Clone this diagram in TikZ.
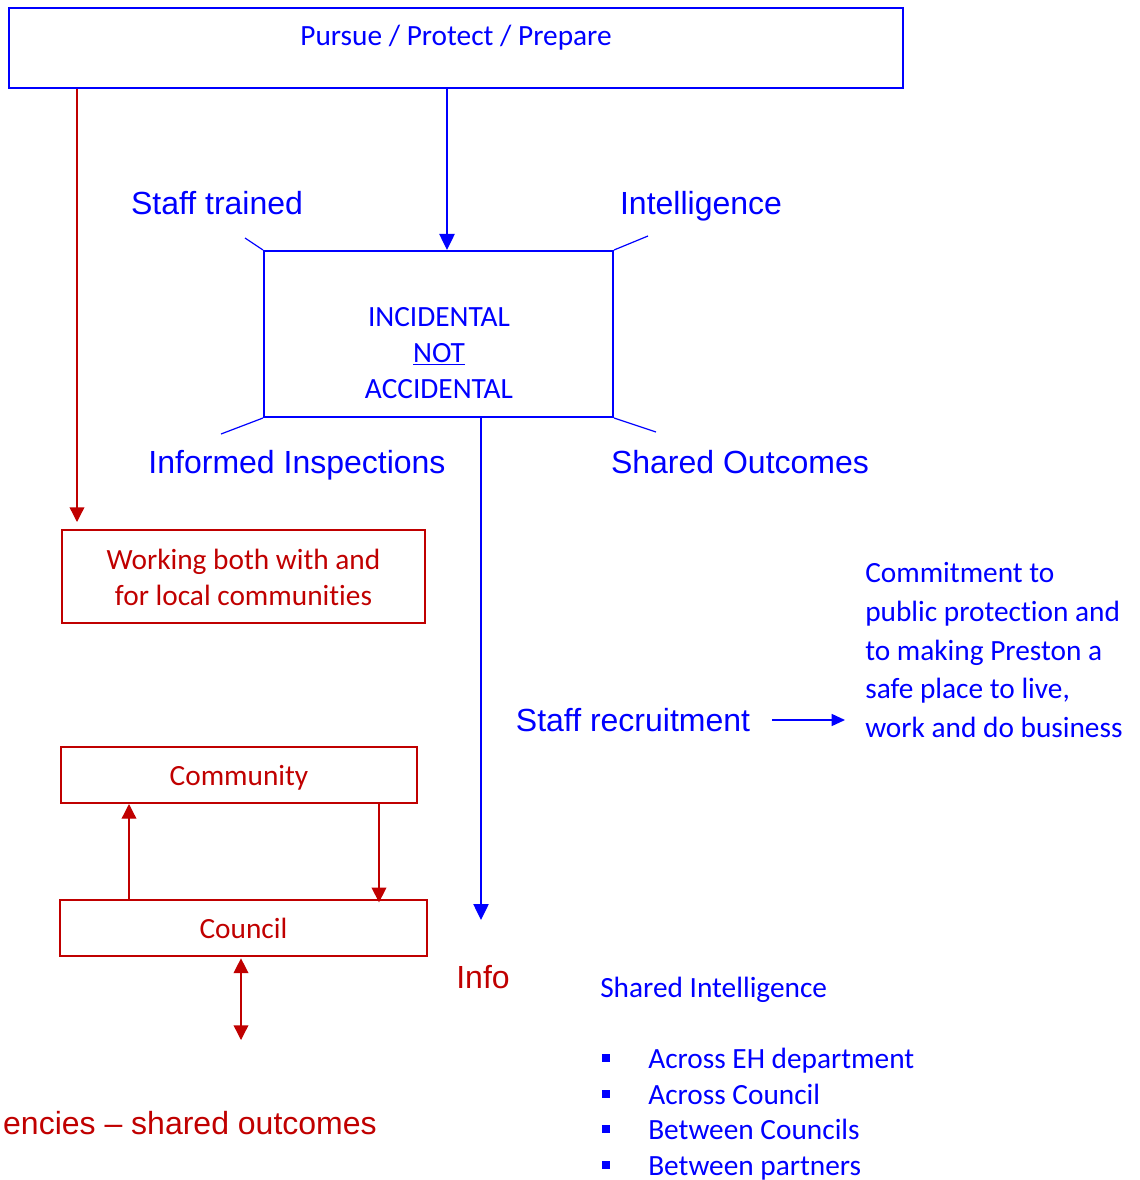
\documentclass[tikz,border=0pt]{standalone}
\usepackage{fontspec}
\setmainfont{Carlito}[Ligatures={NoCommon}]
\newfontfamily\arialf[Ligatures=TeX]{Liberation Sans}
\usetikzlibrary{arrows.meta}
\definecolor{dblue}{RGB}{0,0,255}
\definecolor{dred}{RGB}{192,0,0}
\begin{document}
\begin{tikzpicture}[x=0.75pt,y=-0.75pt,
  bbox/.style={draw=dblue,line width=1.5pt,inner sep=0pt},
  rbox/.style={draw=dred,line width=1.5pt,inner sep=0pt},
  ctext/.style={font=\fontsize{22}{27}\selectfont,inner sep=0pt,anchor=base},
  ltext/.style={ctext,anchor=base west},
  atext/.style={font=\arialf\fontsize{24}{28}\selectfont,inner sep=0pt,anchor=base},
  bline/.style={draw=dblue,line width=0.9pt},
  barrow/.style={draw=dblue,line width=1pt,-{Triangle[length=12pt,width=11.5pt]}},
  sarrow/.style={draw=dblue,line width=1.1pt,-{Triangle[length=10pt,width=9pt]}},
  rarrow/.style={draw=dred,line width=1pt,-{Triangle[length=11pt,width=11pt]}},
  rdarrow/.style={draw=dred,line width=1pt,{Triangle[length=11pt,width=11pt]}-{Triangle[length=11pt,width=11pt]}},
  bullet/.style={fill=dblue,inner sep=0pt,minimum size=5.8pt},
]
\useasboundingbox (0,0) rectangle (1139,1180);

% boxes
\node[bbox,minimum width=670.5pt,minimum height=60pt] (top) at (456,48) {};
\node[ctext,text=dblue] (toptext) at (456,46) {Pursue / Protect / Prepare};

\node[bbox,minimum width=261.75pt,minimum height=124.5pt] (mid) at (438.5,334) {};
\node[ctext,text=dblue] (m1) at (439,326) {INCIDENTAL};
\node[ctext,text=dblue] (m2) at (439,362) {\underline{NOT}};
\node[ctext,text=dblue] (m3) at (439,398) {ACCIDENTAL};

\node[rbox,minimum width=272.25pt,minimum height=69.75pt] (work) at (243.5,576.5) {};
\node[ctext,text=dred] (w1) at (243.5,569) {Working both with and};
\node[ctext,text=dred] (w2) at (243.5,605) {for local communities};

\node[rbox,minimum width=267pt,minimum height=42pt] (community) at (239,775) {};
\node[ctext,text=dred] (commtext) at (239,785) {Community};
\node[rbox,minimum width=275.25pt,minimum height=42pt] (council) at (243.5,928) {};
\node[ctext,text=dred] (counciltext) at (243.5,938) {Council};

% labels
\node[atext,text=dblue] (staff) at (217,215) {Staff trained};
\node[atext,text=dblue] (intel) at (701,215) {Intelligence};
\node[atext,text=dblue] (insp) at (297,473) {Informed Inspections};
\node[atext,text=dblue] (shout) at (740,473) {Shared Outcomes};
\node[atext,text=dblue] (recruit) at (633,731) {Staff recruitment};
\node[atext,text=dred] (info) at (483,988) {Info};
\node[atext,text=dred,anchor=base east] (agencies) at (377,1134) {encies – shared outcomes};

% commitment text
\node[ltext,text=dblue] (cm1) at (865,582) {Commitment to};
\node[ltext,text=dblue] (cm2) at (865,621) {public protection and};
\node[ltext,text=dblue] (cm3) at (865,660) {to making Preston a};
\node[ltext,text=dblue] (cm4) at (865,698) {safe place to live,};
\node[ltext,text=dblue] (cm5) at (865,737) {work and do business};

% shared intelligence
\node[ltext,text=dblue] (si) at (600,997) {Shared Intelligence};
\node[ltext,text=dblue] (s1) at (648,1068) {Across EH department};
\node[ltext,text=dblue] (s2) at (648,1104) {Across Council};
\node[ltext,text=dblue] (s3) at (648,1139) {Between Councils};
\node[ltext,text=dblue] (s4) at (648,1175) {Between partners};
\node[bullet] (b1) at (606,1058) {};
\node[bullet] (b2) at (606,1094) {};
\node[bullet] (b3) at (606,1129) {};
\node[bullet] (b4) at (606,1165) {};

% connectors
\coordinate (c1) at (77,522);
\draw[rarrow] (top.south -| c1) -- (c1);
\coordinate (c2) at (447,0);
\draw[barrow] (top.south -| c2) -- (mid.north -| c2);
\coordinate (c3) at (481,920);
\draw[barrow] (mid.south -| c3) -- (c3);

\coordinate (d1) at (245,238);
\coordinate (d2) at (648,236);
\coordinate (d3) at (221,434);
\coordinate (d4) at (656,432);
\draw[bline] (mid.north west) -- (d1);
\draw[bline] (mid.north east) -- (d2);
\draw[bline] (mid.south west) -- (d3);
\draw[bline] (mid.south east) -- (d4);

\coordinate (u) at (129,0);
\draw[rarrow] (council.north -| u) -- (community.south -| u);
\coordinate (dn) at (379,0);
\draw[rarrow] (community.south -| dn) -- ([yshift=-2.5pt]council.north -| dn);
\coordinate (db) at (241,1040);
\draw[rdarrow] ([yshift=-1pt]council.south -| db) -- (db);

\coordinate (rs) at (772,720);
\coordinate (re) at (845,720);
\draw[sarrow] (rs) -- (re);
\end{tikzpicture}
\end{document}
